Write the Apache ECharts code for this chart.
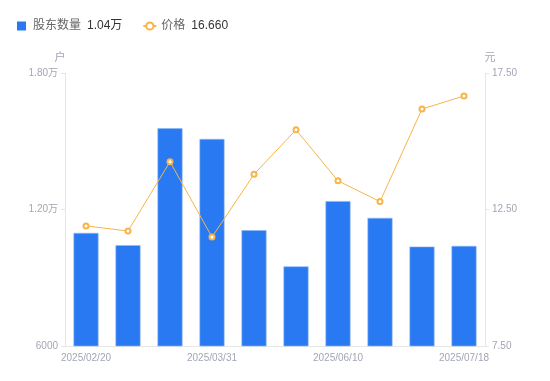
<!DOCTYPE html>
<html><head><meta charset="utf-8">
<script src="https://cdn.jsdelivr.net/npm/echarts@6/dist/echarts.min.js"></script>
<style>html,body{margin:0;padding:0;background:#fff}#c{width:550px;height:381px}</style>
</head><body><div id="c"></div>
<script>
var categories = ['2025/02/20','2025/02/28','2025/03/10','2025/03/31','2025/04/30','2025/05/20','2025/06/10','2025/06/20','2025/06/30','2025/07/18'];
var holders = [10970, 10430, 15570, 15100, 11090, 9500, 12370, 11630, 10370, 10400];
var prices = [11.90, 11.71, 14.25, 11.49, 13.79, 15.42, 13.55, 12.79, 16.18, 16.66];
var leftTicks = [6000, 12000, 18000];
var rightTicks = [7.5, 12.5, 17.5];

function fmtLeft(v){ return v >= 10000 ? (v/10000).toFixed(2) + '万' : String(v); }
var chart = echarts.init(document.getElementById('c'));
var font = '"Liberation Sans", "Noto Sans CJK SC", sans-serif';
chart.setOption({
  animation: false,
  textStyle: {fontFamily: font},
  legend: {
    left: 12, top: 15, itemWidth: 13, itemHeight: 9, itemGap: 20,
    textStyle: {fontSize: 12, color: '#666', fontFamily: font,
      rich: {v: {fontSize: 12, color: '#333', padding: [0,0,0,6], fontFamily: font}}},
    formatter: function(n){
      if (n === '股东数量') return n + '{v|' + fmtLeft(holders[holders.length-1]) + '}';
      return n + '{v|' + prices[prices.length-1].toFixed(3) + '}';
    },
    data: [{name:'股东数量', icon:'path://M0 0H10V10H0Z', itemStyle:{borderWidth:0}}, {name:'价格'}]
  },
  grid: {left: 65, right: 65, top: 73, bottom: 35},
  xAxis: {
    type: 'category', data: categories,
    axisLine: {lineStyle: {color: '#e6e6e6'}},
    axisTick: {show: false},
    axisLabel: {interval: 2, color: '#a3a6b4', fontSize: 10, margin: 7, fontFamily: font}
  },
  yAxis: [{
    type: 'value', name: '户', min: leftTicks[0], max: leftTicks[2], interval: leftTicks[1]-leftTicks[0],
    nameTextStyle: {color: '#a3a6b4', fontSize: 11, padding: [0, 0, 0, -10]},
    nameGap: 10,
    axisLine: {show: true, lineStyle: {color: '#e6e6e6'}},
    axisTick: {show: true, length: 4, lineStyle: {color: '#e6e6e6'}},
    splitLine: {show: false},
    axisLabel: {color: '#a3a6b4', fontSize: 10, margin: 7, formatter: fmtLeft}
  }, {
    type: 'value', name: '元', min: rightTicks[0], max: rightTicks[2], interval: rightTicks[1]-rightTicks[0],
    nameTextStyle: {color: '#a3a6b4', fontSize: 11, padding: [0, 0, 0, 10]},
    nameGap: 10,
    axisLine: {show: true, lineStyle: {color: '#e6e6e6'}},
    axisTick: {show: true, length: 4, lineStyle: {color: '#e6e6e6'}},
    splitLine: {show: false},
    axisLabel: {color: '#a3a6b4', fontSize: 10, margin: 7, formatter: function(v){return v.toFixed(2);}}
  }],
  series: [{
    name: '股东数量', type: 'bar', yAxisIndex: 0, data: holders, barWidth: 25,
    itemStyle: {color: '#2979f2', borderColor: '#8fb7f7', borderWidth: 0.6}
  }, {
    name: '价格', type: 'line', yAxisIndex: 1, data: prices,
    symbol: 'emptyCircle', symbolSize: 5,
    lineStyle: {color: '#f8b448', width: 1},
    itemStyle: {color: '#f8b448', borderWidth: 1.6}
  }]
});
</script></body></html>
